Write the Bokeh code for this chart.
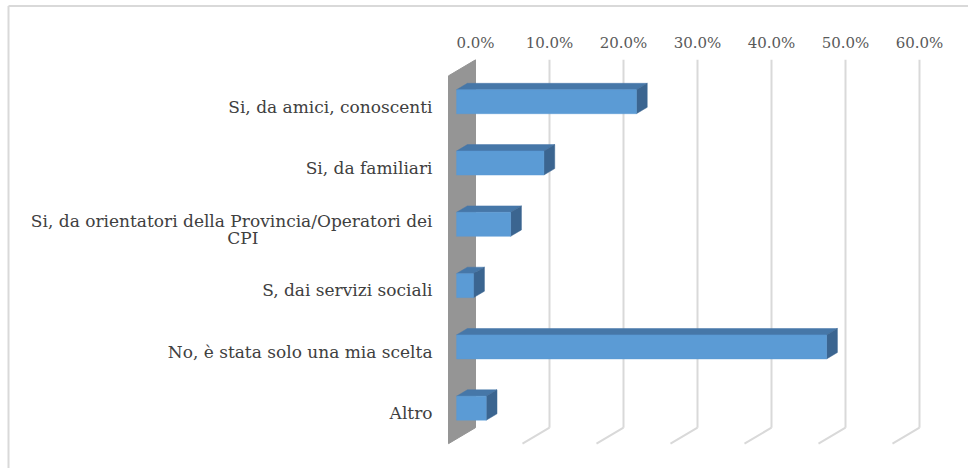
from bokeh.plotting import figure
from bokeh.models import Range1d
from bokeh.core.properties import value
from bokeh.embed import file_html
from bokeh.resources import INLINE

# ---- data ----
categories = [
    "Si, da amici, conoscenti",
    "Si, da familiari",
    "Si, da orientatori della Provincia/Operatori dei\nCPI",
    "S, dai servizi sociali",
    "No, è stata solo una mia scelta",
    "Altro",
]
values = [24.3, 11.8, 7.3, 2.3, 50.0, 4.0]
ticks = [0, 10, 20, 30, 40, 50, 60]
tick_labels = ["0.0%", "10.0%", "20.0%", "30.0%", "40.0%", "50.0%", "60.0%"]

# ---- geometry (pixels) ----
W, H = 968, 468
X0 = 448.0       # canvas x of 0% on the front plane
PX = 7.4         # px per percent
Y0 = 106.0       # canvas y of first row centre (front plane)
PITCH = 61.3     # px per row
DXP, DYP = 27.0, 16.0  # full depth offset in px
dx = DXP / PX
dy = DYP / PITCH
F1, F2 = 0.3, 0.7       # bar depth fractions
HH = 12.0 / PITCH       # half bar height (rows)
WALL_TOP, WALL_BOT = -0.5, 5.5

p = figure(width=W, height=H, output_backend="svg", toolbar_location=None,
           x_range=Range1d(-X0 / PX, (W - X0) / PX),
           y_range=Range1d((H - Y0) / PITCH, -Y0 / PITCH),
           min_border=0, min_border_left=0, min_border_right=0,
           min_border_top=0, min_border_bottom=0)
p.axis.visible = False
p.grid.visible = False
p.outline_line_color = None
p.background_fill_color = "white"
p.border_fill_color = "white"

# chart border (left & top)
bx = (8.0 - X0) / PX
by = (5.5 - Y0) / PITCH
p.segment(x0=[bx, bx], y0=[p.y_range.start, by], x1=[bx, p.x_range.end], y1=[by, by],
          line_color="#d9d9d9", line_width=2)

# back gridlines and floor gridlines
gx_back = [t + dx for t in ticks[1:]]
p.segment(x0=gx_back, y0=[WALL_TOP - dy] * len(gx_back), x1=gx_back, y1=[WALL_BOT - dy] * len(gx_back),
          line_color="#d9d9d9", line_width=2)
p.segment(x0=gx_back, y0=[WALL_BOT - dy] * len(gx_back), x1=ticks[1:], y1=[WALL_BOT] * len(gx_back),
          line_color="#d9d9d9", line_width=2)

# side wall
p.patch(x=[0, dx, dx, 0], y=[WALL_TOP, WALL_TOP - dy, WALL_BOT - dy, WALL_BOT],
        fill_color="#959595", line_color="#959595", line_width=1)

# 3D bars
rows = list(range(len(values)))
xl = [F1 * dx for _ in values]
xr = [v + F1 * dx for v in values]
yc = [r - F1 * dy for r in rows]
yt = [c - HH for c in yc]
yb = [c + HH for c in yc]
ddx = (F2 - F1) * dx
ddy = (F2 - F1) * dy

top_x = [[a, b, b + ddx, a + ddx] for a, b in zip(xl, xr)]
top_y = [[t, t, t - ddy, t - ddy] for t in yt]
side_x = [[b, b, b + ddx, b + ddx] for b in xr]
side_y = [[t, bb, bb - ddy, t - ddy] for t, bb in zip(yt, yb)]
front_x = [[a, b, b, a] for a, b in zip(xl, xr)]
front_y = [[t, t, bb, bb] for t, bb in zip(yt, yb)]

p.patches(xs=top_x, ys=top_y, fill_color="#4677a8", line_color="#4677a8", line_width=0.5)
p.patches(xs=side_x, ys=side_y, fill_color="#3b6590", line_color="#3b6590", line_width=0.5)
p.patches(xs=front_x, ys=front_y, fill_color="#5b9bd5", line_color="#5b9bd5", line_width=0.5)

# tick labels (top axis on the back plane)
p.text(x=[t + dx for t in ticks], y=[-1.044] * len(ticks), text=tick_labels,
       text_align="center", text_baseline="middle", text_color="#595959",
       text_font=value("DejaVu Serif"), text_font_size=value("15px"))

# category labels
LX = -2.16
first_lines, second_x, second_y, second_t = [], [], [], []
ly = []
for r, c in zip(rows, categories):
    parts = c.split("\n")
    if len(parts) == 1:
        first_lines.append(parts[0]); ly.append(r)
    else:
        first_lines.append(parts[0]); ly.append(r - 8.5 / PITCH)
        second_t.append(parts[1]); second_y.append(r + 8.5 / PITCH); second_x.append(-27.8)

p.text(x=[LX] * len(first_lines), y=ly, text=first_lines,
       text_align="right", text_baseline="middle", text_color="#404040",
       text_font=value("DejaVu Serif"), text_font_size=value("17px"))
p.text(x=second_x, y=second_y, text=second_t,
       text_align="center", text_baseline="middle", text_color="#404040",
       text_font=value("DejaVu Serif"), text_font_size=value("17px"))

open("out.html", "w").write(file_html(p, INLINE))
